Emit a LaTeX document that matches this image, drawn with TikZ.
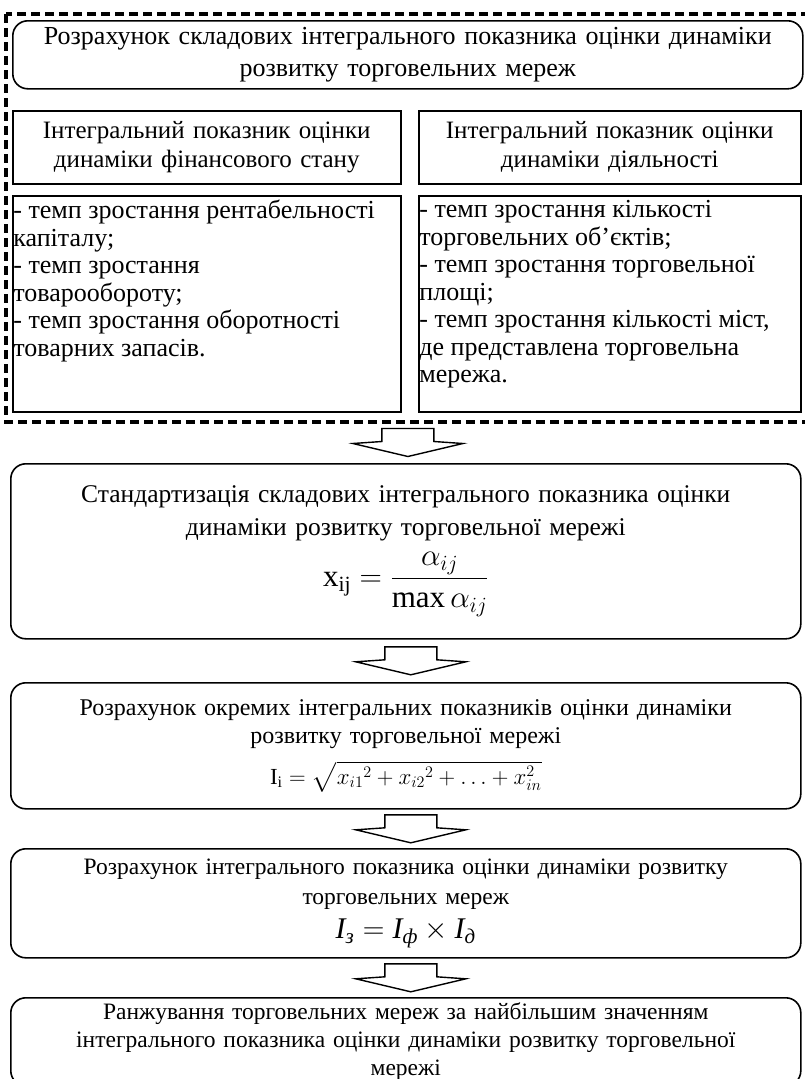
\documentclass[tikz,border=0pt]{standalone}
\usepackage{fix-cm}
\usepackage{amsmath}
\usepackage{fontspec}
\setmainfont{Liberation Serif}
\usetikzlibrary{calc}

\tikzset{every picture/.style={line width=0.75pt}}
\tikzset{
	bigbox/.style={draw,line width=1.6pt,rounded corners=15pt,minimum width=790pt,text width=774pt,align=center,inner ysep=2pt},
	headbox/.style={draw,line width=1.5pt,align=center,inner sep=2pt,font=\fontsize{25}{29}\selectfont},
	listbox/.style={draw,line width=1.5pt,minimum height=216pt},
	listtext/.style={align=left,inner sep=1pt,font=\fontsize{26}{27.5}\selectfont},
	dashframe/.style={line width=3.5pt,dash pattern=on 9pt off 5pt},
	pics/bigdown/.style={code={
		\draw[line width=1.4pt,fill=white] (-26,14)--(26,14)--(26,1)--(55,-1)--(0,-14)--(-55,-1)--(-26,1)--cycle;
	}},
}

\begin{document}
\begin{tikzpicture}[x=1pt,y=1pt]
	\useasboundingbox (0,0) rectangle (805,-1079);
	\draw[dashframe] (6,-14) rectangle (812,-422); %рамка
	\coordinate (fb) at (410,-422);
	% верхній блок
	\node[bigbox,anchor=north west,minimum height=68pt,font=\fontsize{26}{32}\selectfont] (head) at (12,-20)
		{Розрахунок складових інтегрального показника оцінки динаміки\\ розвитку торговельних мереж};
	\node[headbox,anchor=north west,minimum width=388pt,minimum height=73pt,text width=384pt] (finhd) at (12,-110)
		{Інтегральний показник оцінки\\ динаміки фінансового стану};
	\node[headbox,anchor=north west,minimum width=382pt,minimum height=73pt,text width=378pt] (acthd) at (418,-110)
		{Інтегральний показник оцінки\\ динаміки діяльності};
	\node[listbox,anchor=north west,minimum width=388pt] (finbox) at (12,-195) {};
	\node[listbox,anchor=north west,minimum width=382pt] (actbox) at (418,-195) {};
	\node[listtext,anchor=north west] (finlist) at ($(finbox.north west)+(0,-4)$)
		{- темп зростання рентабельності\\ капіталу;\\ - темп зростання\\ товарообороту;\\ - темп зростання оборотності\\ товарних запасів.};
	\node[listtext,anchor=north west] (actlist) at ($(actbox.north west)+(0,-4)$)
		{- темп зростання кількості\\ торговельних об’єктів;\\ - темп зростання торговельної\\ площі;\\ - темп зростання кількості міст,\\ де представлена торговельна\\ мережа.};
	% етапи
	\node[bigbox,anchor=north west,minimum height=175pt,font=\fontsize{25.5}{33}\selectfont] (stand) at (10,-463)
		{Стандартизація складових інтегрального показника оцінки\\ динаміки розвитку торговельної мережі\\[10pt]
		\mbox{\fontsize{31}{34}\selectfont $\mathrm{x}_{\mathrm{ij}}=\dfrac{\alpha_{ij}}{\max\alpha_{ij}}$}};
	\node[bigbox,anchor=north west,minimum height=126pt,font=\fontsize{24}{28}\selectfont] (single) at (10,-682)
		{Розрахунок окремих інтегральних показників оцінки динаміки\\ розвитку торговельної мережі\\[12pt]
		\mbox{\fontsize{23}{28}\selectfont $\mathrm{I}_{\mathrm{i}}=\sqrt{{x_{i1}}^2+{x_{i2}}^2+\ldots+x_{in}^2}$}};
	\node[bigbox,anchor=north west,minimum height=109pt,font=\fontsize{23.5}{30}\selectfont] (total) at (10,-848)
		{Розрахунок інтегрального показника оцінки динаміки розвитку\\ торговельних мереж\\[4pt]
		\mbox{\fontsize{30}{30}\selectfont $\textit{I}_{\textit{з}}=\textit{I}_{\textit{ф}}\times\textit{I}_{\textit{д}}$}};
	\node[bigbox,anchor=north west,minimum height=88pt,font=\fontsize{23.5}{28}\selectfont,inner ysep=1pt] (rank) at (10,-997)
		{Ранжування торговельних мереж за найбільшим значенням\\ інтегрального показника оцінки динаміки розвитку торговельної\\ мережі};
	% стрілки
	\pic (a1) at ($(fb)!.5!(stand.north)$) {bigdown};
	\pic (a2) at ($(stand.south)!.5!(single.north)+(5,0)$) {bigdown};
	\pic (a3) at ($(single.south)!.5!(total.north)+(5,0)$) {bigdown};
	\pic (a4) at ($(total.south)!.5!(rank.north)+(5,0)$) {bigdown};
\end{tikzpicture}
\end{document}
